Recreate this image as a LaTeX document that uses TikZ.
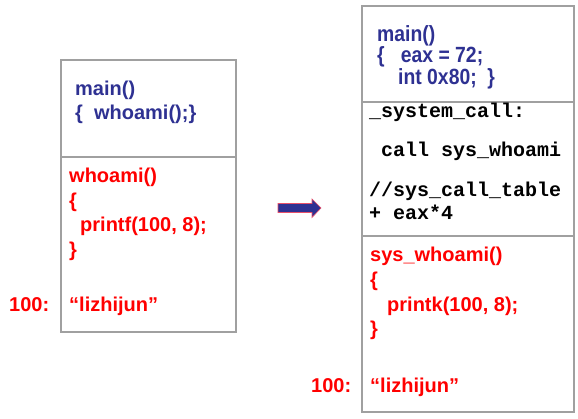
\documentclass[tikz,border=0pt]{standalone}
\usepackage{fontspec}
\setmainfont{Liberation Sans}
\newfontfamily\codefont{Liberation Mono}
\newfontfamily\narrowfont[FakeStretch=0.88]{Liberation Sans}
\usetikzlibrary{positioning}
\definecolor{navy}{HTML}{2E3192}
\definecolor{boxgray}{HTML}{A0A0A0}
\definecolor{arrowred}{HTML}{E8506A}
\tikzset{
  txt/.style={anchor=base west, inner sep=0pt, font=\fontsize{20}{24}\selectfont\bfseries},
  bluetxt/.style={txt, text=navy},
  narrowtxt/.style={anchor=base west, inner sep=0pt, font=\fontsize{22}{26}\selectfont\narrowfont\bfseries, text=navy},
  redtxt/.style={txt, text=red},
  codetxt/.style={anchor=base west, inner sep=0pt, font=\fontsize{20}{24}\selectfont\codefont\bfseries, text=black},
  boxline/.style={draw=boxgray, line width=1.5pt},
}
\begin{document}
\begin{tikzpicture}[x=1pt,y=-1pt]
\useasboundingbox (0,0) rectangle (578,419);
% left box
\draw[boxline] (61,60) rectangle (236,332);
\draw[boxline] (61,157) -- (236,157);
\node[bluetxt] (lmain) at (75,96) {main()};
\node[bluetxt] (lcall) at (75,120) {\{\ \ whoami();\}};
\node[redtxt] (lfn) at (69,183) {whoami()};
\node[redtxt] (lob) at (69,207.5) {\{};
\node[redtxt] (lpr) at (80,232) {printf(100, 8);};
\node[redtxt] (lcb) at (69,256.5) {\}};
\node[redtxt] (lstr) at (69,312) {“lizhijun”};
\node[redtxt] (laddr) at (9,312) {100:};
% arrow
\draw[draw=arrowred, fill=navy, line width=0.6pt]
  (278,203.5) -- (312,203.5) -- (312,199) -- (321,208) -- (312,217.5) -- (312,212.5) -- (278,212.5) -- cycle;
% right box
\draw[boxline] (362,6) rectangle (574,412);
\draw[boxline] (362,102) -- (574,102);
\draw[boxline] (362,236) -- (574,236);
\node[narrowtxt] (rmain) at (377,42) {main()};
\node[narrowtxt] (reax) at (377,63) {\{\ \ \ eax = 72;};
\node[narrowtxt] (rint) at (398,85) {int 0x80;\ \ \}};
\node[codetxt] (rsc) at (369,118) {\_system\_call:};
\node[codetxt] (rcall) at (369,157) {\ call sys\_whoami};
\node[codetxt] (rtab) at (369,197) {//sys\_call\_table};
\node[codetxt] (reax4) at (369,220) {+ eax*4};
\node[redtxt] (rfn) at (370,262) {sys\_whoami()};
\node[redtxt] (rob) at (370,287) {\{};
\node[redtxt] (rpr) at (387,312) {printk(100, 8);};
\node[redtxt] (rcb) at (370,336) {\}};
\node[redtxt] (rstr) at (370,392) {“lizhijun”};
\node[redtxt] (raddr) at (311,392) {100:};
\end{tikzpicture}
\end{document}
